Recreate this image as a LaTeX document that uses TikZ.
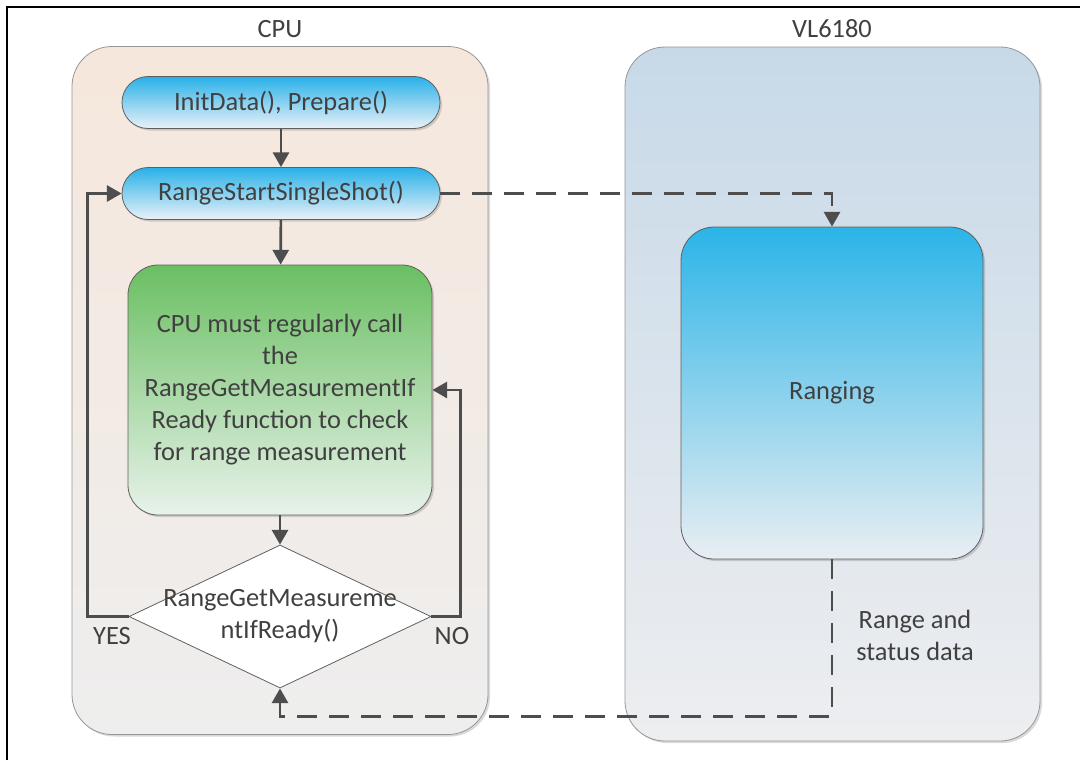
\documentclass[tikz,border=0pt]{standalone}
\usepackage{fontspec}
\setmainfont{Carlito}
\usetikzlibrary{
    shapes.geometric,
    arrows.meta,
    positioning,
    shadows
}
\definecolor{inkgray}{RGB}{64, 64, 64}
\definecolor{linegray}{RGB}{77, 77, 77}
\definecolor{edgegray}{RGB}{95, 95, 95}
\definecolor{lanegray}{RGB}{150, 150, 150}
\definecolor{cputop}{RGB}{246, 231, 220}
\definecolor{cpubot}{RGB}{238, 238, 238}
\definecolor{vltop}{RGB}{199, 217, 232}
\definecolor{vlbot}{RGB}{237, 238, 240}
\definecolor{calltop}{RGB}{40, 177, 232}
\definecolor{callbot}{RGB}{234, 241, 248}
\definecolor{polltop}{RGB}{106, 191, 98}
\definecolor{pollmid}{RGB}{138, 203, 144}
\definecolor{pollbot}{RGB}{232, 242, 234}
\definecolor{rangetop}{RGB}{43, 180, 232}
\definecolor{rangemid}{RGB}{105, 198, 236}
\definecolor{rangebot}{RGB}{233, 238, 242}

\begin{document}
\begin{tikzpicture}[x=0.75pt, y=-0.75pt,
        every node/.style={text=inkgray, font=\fontsize{19.8}{24}\selectfont},
        softshadow/.style={drop shadow={shadow xshift=1.5pt, shadow yshift=-1.5pt, opacity=0.15, fill=black}},
        lane/.style={rectangle, rounded corners=30pt, draw=lanegray, line width=0.6pt,
            minimum width=312pt, minimum height=516pt, softshadow},
        call/.style={rectangle, rounded corners=19.5pt, draw=edgegray, line width=0.6pt,
            minimum width=238.5pt, minimum height=39pt, top color=calltop, bottom color=callbot, softshadow},
        pollbox/.style={rectangle, rounded corners=22.5pt, draw=edgegray, line width=0.6pt,
            minimum width=228pt, minimum height=187.5pt, align=center,
            top color=polltop, middle color=pollmid, bottom color=pollbot, softshadow},
        decision/.style={diamond, draw=edgegray, line width=0.6pt, fill=white, inner sep=0pt,
            minimum width=226.5pt, minimum height=107.25pt},
        rangebox/.style={rectangle, rounded corners=25pt, draw=edgegray, line width=0.6pt,
            minimum width=226.5pt, minimum height=249pt,
            top color=rangetop, middle color=rangemid, bottom color=rangebot, softshadow},
        flow/.style={draw=linegray, line width=2pt, -{Triangle[length=11pt, width=12pt]}},
        dataflow/.style={flow, dash pattern=on 15pt off 9pt}
    ]
        \useasboundingbox (0,0) rectangle (1080,760);

        % Page frame
        \draw[line width=1.5pt] (7,760) -- (7,7) -- (1080,7);

        % Lanes
        \node[lane, top color=cputop, bottom color=cpubot] (cpu) at (280,390.5) {};
        \node[lane, minimum width=311.25pt, minimum height=520.5pt,
            top color=vltop, bottom color=vlbot] (vl) at (832.5,394) {};
        \node (cpulabel) at (280,29) {CPU};
        \node (vllabel) at (832,29) {VL6180};

        % CPU side
        \node[call] (init) at (281,102.5) {InitData(), Prepare()};
        \node[call] (start) at (281,193.5) {RangeStartSingleShot()};
        \node[pollbox] (poll) at (280,390) {CPU must regularly call\\the\\RangeGetMeasurementIf\\Ready function to check\\for range measurement};
        \node[decision] (check) at (280,616.5) {};
        \node[align=center] (checktext) at (check) {RangeGetMeasureme\\ntIfReady()};
        \node (yes) at (112,636) {YES};
        \node (no) at (452,636) {NO};

        % VL6180 side
        \node[rangebox] (ranging) at (832,393) {Ranging};
        \node[align=center] (data) at (915,635) {Range and\\status data};

        % Connectors
        \draw[flow] (init) -- (start);
        \draw[flow] (start) -- (poll);
        \draw[flow] (poll) -- (check);
        \draw[flow] (check.west) -- ++(-41,0) |- (start.west);
        \draw[flow] (check.east) -- ++(29,0) |- (poll.east);
        \draw[dataflow] (start.east) -| (ranging.north);
        \draw[dataflow] (ranging.south) -- ++(0,157) -| (check.south);
    \end{tikzpicture}
\end{document}
